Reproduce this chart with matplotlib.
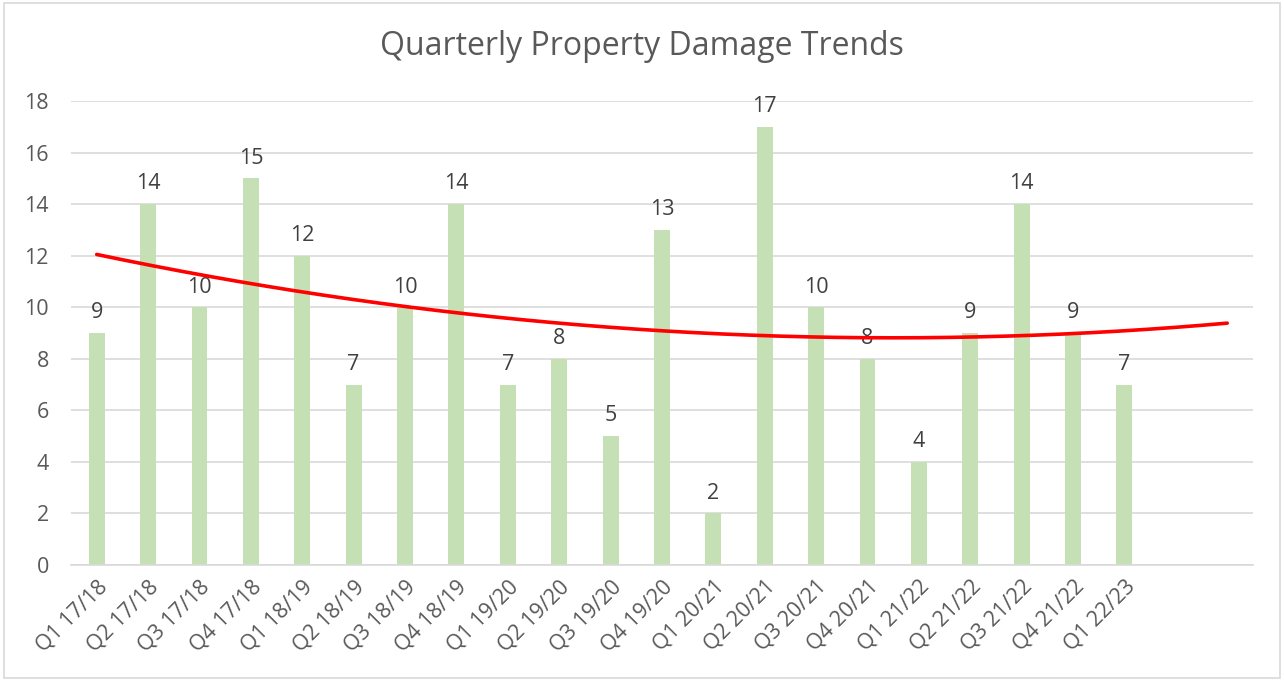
import numpy as np
import matplotlib.pyplot as plt
from matplotlib.patches import Rectangle

plt.rcParams['font.family'] = ['Open Sans', 'DejaVu Sans']

quarters = ['Q1 17/18', 'Q2 17/18', 'Q3 17/18', 'Q4 17/18',
            'Q1 18/19', 'Q2 18/19', 'Q3 18/19', 'Q4 18/19',
            'Q1 19/20', 'Q2 19/20', 'Q3 19/20', 'Q4 19/20',
            'Q1 20/21', 'Q2 20/21', 'Q3 20/21', 'Q4 20/21',
            'Q1 21/22', 'Q2 21/22', 'Q3 21/22', 'Q4 21/22',
            'Q1 22/23']
damage = [9, 14, 10, 15, 12, 7, 10, 14, 7, 8, 5, 13, 2, 17, 10, 8, 4, 9, 14, 9, 7]
forecast_periods = 2

fig = plt.figure(figsize=(12.84, 6.81), dpi=100)
ax = fig.add_axes([0.0553, 0.1703, 0.9205, 0.6814])

x = np.arange(len(damage))
ax.bar(x, damage, width=0.31, color='#C5E0B4', zorder=2)

for xi, v in zip(x, damage):
    ax.annotate(str(v), (xi, v), xytext=(0, 7), textcoords='offset points',
                ha='center', va='bottom', fontsize=15.5, color='#404040')

# polynomial (order 2) trendline, extended forward
coef = np.polyfit(x, damage, 2)
xt = np.linspace(0, len(damage) - 1 + forecast_periods, 200)
ax.plot(xt, np.polyval(coef, xt), color='#FF0000', lw=2.6, zorder=3,
        solid_capstyle='round')

n_slots = len(damage) + forecast_periods
ax.set_xlim(-0.5, n_slots - 0.5)
ax.set_ylim(0, 18)
ax.set_yticks(range(0, 19, 2))
ax.set_xticks(x)
ax.set_xticklabels(quarters, rotation=45, ha='right', rotation_mode='anchor')
ax.tick_params(axis='both', length=0, labelsize=15.5, colors='#595959')
ax.tick_params(axis='x', pad=8)
ax.tick_params(axis='y', pad=16)
ax.grid(axis='y', color='#D9D9D9', lw=1.2, zorder=0)
for s in ['top', 'right', 'left']:
    ax.spines[s].set_visible(False)
ax.spines['bottom'].set_color('#D9D9D9')
ax.spines['bottom'].set_linewidth(1.2)

fig.text(0.5, 0.932, 'Quarterly Property Damage Trends', ha='center', va='center',
         fontsize=23, color='#595959')

fig.patches.append(Rectangle((0.003, 0.004), 0.994, 0.992, transform=fig.transFigure,
                             fill=False, edgecolor='#D9D9D9', lw=1.2))

fig.savefig('out.png', dpi=100)
